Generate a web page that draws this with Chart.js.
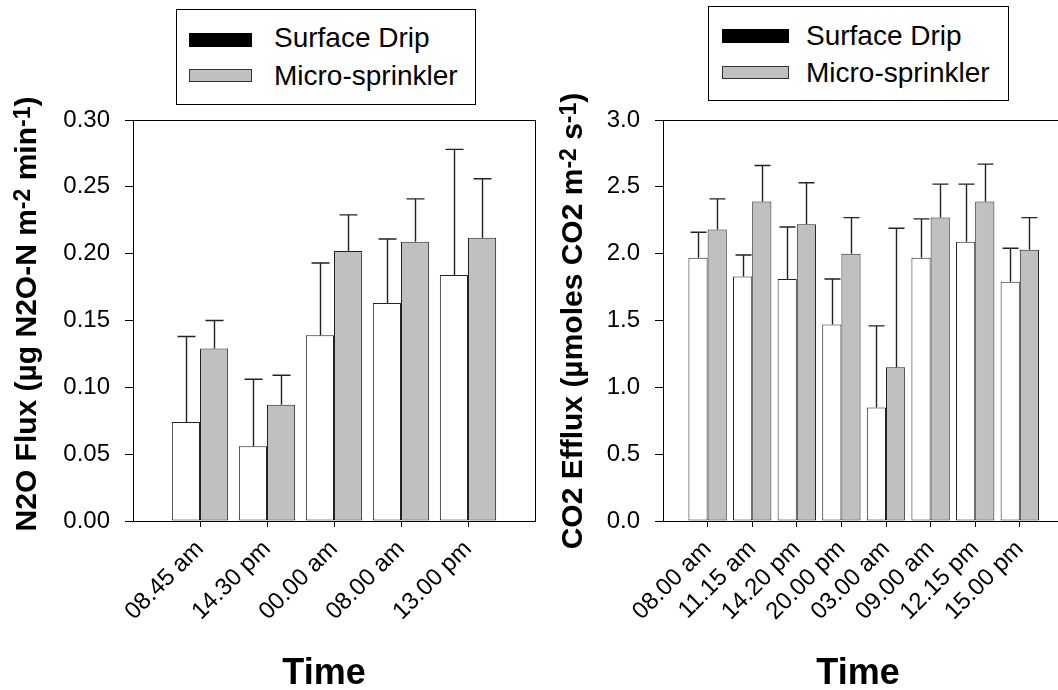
<!DOCTYPE html>
<html>
<head>
<meta charset="utf-8">
<script src="https://cdn.jsdelivr.net/npm/chart.js@4"></script>
<style>
    html, body { margin: 0; padding: 0; background: #fff; overflow: hidden; }
    body { width: 1058px; height: 690px; position: relative; font-family: 'Liberation Sans', Arial, sans-serif; }
    canvas { position: absolute; top: 0; }
    .legend { position: absolute; border: 1px solid #000; box-sizing: border-box; background: #fff; }
    .swatch { position: absolute; box-sizing: border-box; }
    .legend span { position: absolute; font-size: 28px; line-height: 28px; color: #000; white-space: nowrap; }
</style>
</head>
<body>
<canvas id="n2oChart" width="545" height="690" style="left:0"></canvas>
<canvas id="co2Chart" width="540" height="690" style="left:540px"></canvas>
<div id="legendLeft" class="legend"></div>
<div id="legendRight" class="legend"></div>

<script>
// Séries
const seriesNames = ['Surface Drip', 'Micro-sprinkler'];

const n2oLabels = ['08.45 am', '14.30 pm', '00.00 am', '08.00 am', '13.00 pm'];
const n2oDrip = [0.074, 0.056, 0.139, 0.163, 0.184];
const n2oDripErr = [0.064, 0.050, 0.054, 0.048, 0.094];
const n2oSprinkler = [0.129, 0.087, 0.202, 0.209, 0.212];
const n2oSprinklerErr = [0.021, 0.022, 0.027, 0.032, 0.044];
const n2oTicks = [0, 0.05, 0.10, 0.15, 0.20, 0.25, 0.30];

const co2Labels = ['08.00 am', '11.15 am', '14.20 pm', '20.00 pm', '03.00 am', '09.00 am', '12.15 pm', '15.00 pm'];
const co2Drip = [1.97, 1.83, 1.81, 1.47, 0.85, 1.97, 2.09, 1.79];
const co2DripErr = [0.19, 0.16, 0.39, 0.34, 0.61, 0.29, 0.43, 0.25];
const co2Sprinkler = [2.18, 2.39, 2.22, 2.00, 1.15, 2.27, 2.39, 2.03];
const co2SprinklerErr = [0.23, 0.27, 0.31, 0.27, 1.04, 0.25, 0.28, 0.24];
const co2Ticks = [0, 0.5, 1.0, 1.5, 2.0, 2.5, 3.0];

const FONT = "'Liberation Sans', Arial, sans-serif";
const GRAY = '#c0c0c0';

// barras de error (solo hacia arriba) con tapa
const errorBars = {
    id: 'errorBars',
    afterDatasetsDraw(chart) {
        const { ctx } = chart;
        const yScale = chart.scales.y;
        const cap = chart.options.plugins.errorBars.capWidth;
        ctx.save();
        ctx.strokeStyle = '#222';
        ctx.lineWidth = 1.4;
        chart.data.datasets.forEach((ds, di) => {
            const meta = chart.getDatasetMeta(di);
            meta.data.forEach((bar, i) => {
                const top = yScale.getPixelForValue(ds.data[i].y + ds.errors[i]);
                const x = Math.round(bar.x) + 0.5;
                ctx.beginPath();
                ctx.moveTo(x, bar.y);
                ctx.lineTo(x, top);
                ctx.moveTo(x - cap / 2, top);
                ctx.lineTo(x + cap / 2, top);
                ctx.stroke();
            });
        });
        ctx.restore();
    }
};

// marco superior y derecho
const frame = {
    id: 'frame',
    afterDraw(chart) {
        const { ctx, chartArea: a } = chart;
        ctx.save();
        ctx.strokeStyle = '#000';
        ctx.lineWidth = 1;
        ctx.beginPath();
        ctx.moveTo(Math.round(a.left), Math.round(a.top) + 0.5);
        ctx.lineTo(Math.round(a.right) + 0.5, Math.round(a.top) + 0.5);
        ctx.lineTo(Math.round(a.right) + 0.5, Math.round(a.bottom));
        ctx.stroke();
        ctx.restore();
    }
};

// títulos de ejes (Y con superíndices)
const axisTitles = {
    id: 'axisTitles',
    afterDraw(chart) {
        const opts = chart.options.plugins.axisTitles;
        const { ctx } = chart;
        const big = `bold 30px ${FONT}`;
        const small = `bold 23px ${FONT}`;
        ctx.save();
        ctx.fillStyle = '#000';
        ctx.textBaseline = 'alphabetic';

        ctx.font = `bold 36px ${FONT}`;
        ctx.textAlign = 'center';
        ctx.fillText('Time', opts.xTitle.x, opts.xTitle.y);

        ctx.translate(opts.yTitle.x, opts.yTitle.y);
        ctx.rotate(-Math.PI / 2);
        ctx.textAlign = 'left';
        let total = 0;
        opts.yTitle.parts.forEach(([txt, sup]) => {
            ctx.font = sup ? small : big;
            total += ctx.measureText(txt).width;
        });
        let pos = -total / 2;
        opts.yTitle.parts.forEach(([txt, sup]) => {
            ctx.font = sup ? small : big;
            ctx.fillText(txt, pos, sup ? -6 : 0);
            pos += ctx.measureText(txt).width;
        });
        ctx.restore();
    }
};

function createBarChart(canvasId, cfg) {
    const canvas = document.getElementById(canvasId);
    if (!canvas) return;

    const n = cfg.labels.length;
    const toPoints = values => values.map((v, i) => ({ x: i + 1, y: v }));

    return new Chart(canvas, {
        type: 'bar',
        data: {
            datasets: [{
                label: seriesNames[0],
                data: toPoints(cfg.drip),
                errors: cfg.dripErr,
                backgroundColor: '#fff',
                borderColor: '#222',
                borderWidth: 1,
                borderSkipped: false,
                categoryPercentage: cfg.groupWidth,
                barPercentage: 1
            }, {
                label: seriesNames[1],
                data: toPoints(cfg.sprinkler),
                errors: cfg.sprinklerErr,
                backgroundColor: GRAY,
                borderColor: '#222',
                borderWidth: 1,
                borderSkipped: false,
                categoryPercentage: cfg.groupWidth,
                barPercentage: 1
            }]
        },
        options: {
            responsive: false,
            animation: false,
            layout: { padding: cfg.padding },
            plugins: {
                legend: { display: false },
                tooltip: { enabled: false },
                errorBars: { capWidth: cfg.capWidth },
                axisTitles: { yTitle: cfg.yTitle, xTitle: cfg.xTitle }
            },
            scales: {
                x: {
                    type: 'linear',
                    min: 0,
                    max: n + 1,
                    offset: false,
                    afterFit: scale => { scale.height = cfg.xHeight; },
                    afterBuildTicks: scale => {
                        scale.ticks = cfg.labels.map((_, i) => ({ value: i + 1 }));
                    },
                    grid: { offset: false, drawOnChartArea: false, tickLength: 6, color: '#000' },
                    border: { display: true, color: '#000', width: 1 },
                    ticks: {
                        autoSkip: false,
                        minRotation: 45,
                        maxRotation: 45,
                        padding: 8,
                        color: '#000',
                        font: { family: FONT, size: 24 },
                        callback: value => cfg.labels[value - 1]
                    }
                },
                y: {
                    min: 0,
                    max: cfg.ticks[cfg.ticks.length - 1],
                    afterFit: scale => { scale.width = cfg.yWidth; },
                    afterBuildTicks: scale => {
                        scale.ticks = cfg.ticks.map(v => ({ value: v }));
                    },
                    grid: { drawOnChartArea: false, tickLength: 8, color: '#000' },
                    border: { display: true, color: '#000', width: 1 },
                    ticks: {
                        padding: 15,
                        color: '#000',
                        font: { family: FONT, size: 24 },
                        callback: value => value.toFixed(cfg.decimals)
                    }
                }
            }
        },
        plugins: [errorBars, frame, axisTitles]
    });
}

function buildLegend(id, box) {
    const el = document.getElementById(id);
    Object.assign(el.style, {
        left: box.left + 'px', top: box.top + 'px',
        width: box.width + 'px', height: box.height + 'px'
    });
    box.rows.forEach((row, i) => {
        const sw = document.createElement('div');
        sw.className = 'swatch';
        Object.assign(sw.style, {
            left: box.swatchX + 'px', top: row.swatchY + 'px',
            width: box.swatchW + 'px', height: row.swatchH + 'px',
            background: i === 0 ? '#000' : GRAY,
            border: i === 0 ? 'none' : '1px solid #333'
        });
        el.appendChild(sw);
        const txt = document.createElement('span');
        txt.textContent = seriesNames[i];
        txt.style.left = box.textX + 'px';
        txt.style.top = (row.baseline - 23.7) + 'px';
        el.appendChild(txt);
    });
}

createBarChart('n2oChart', {
    labels: n2oLabels,
    drip: n2oDrip,
    dripErr: n2oDripErr,
    sprinkler: n2oSprinkler,
    sprinklerErr: n2oSprinklerErr,
    ticks: n2oTicks,
    decimals: 2,
    groupWidth: 0.84,
    capWidth: 18,
    yWidth: 133,
    xHeight: 169,
    padding: { left: 0, top: 120, right: 10, bottom: 0 },
    xTitle: { x: 324, y: 684 },
    yTitle: {
        x: 36, y: 314,
        parts: [['N2O Flux (\u00b5g N2O-N m', false], ['-2', true], [' min', false], ['-1', true], [')', false]]
    }
});

createBarChart('co2Chart', {
    labels: co2Labels,
    drip: co2Drip,
    dripErr: co2DripErr,
    sprinkler: co2Sprinkler,
    sprinklerErr: co2SprinklerErr,
    ticks: co2Ticks,
    decimals: 1,
    groupWidth: 0.86,
    capWidth: 16,
    yWidth: 123,
    xHeight: 169,
    padding: { left: 0, top: 120, right: 15.6, bottom: 0 },
    xTitle: { x: 318, y: 684 },
    yTitle: {
        x: 42, y: 321,
        parts: [['CO2 Efflux (\u00b5moles CO2 m', false], ['-2', true], [' s', false], ['-1', true], [')', false]]
    }
});

// leyendas (coordenadas relativas a cada caja)
buildLegend('legendLeft', {
    left: 176, top: 9, width: 300, height: 96,
    swatchX: 12, swatchW: 63, textX: 97,
    rows: [{ swatchY: 22.7, swatchH: 14, baseline: 37.7 }, { swatchY: 59, swatchH: 13, baseline: 76 }]
});
buildLegend('legendRight', {
    left: 708, top: 6, width: 301, height: 95,
    swatchX: 13, swatchW: 67, textX: 97,
    rows: [{ swatchY: 22.3, swatchH: 14, baseline: 39 }, { swatchY: 59, swatchH: 13, baseline: 75.7 }]
});
</script>
</body>
</html>
